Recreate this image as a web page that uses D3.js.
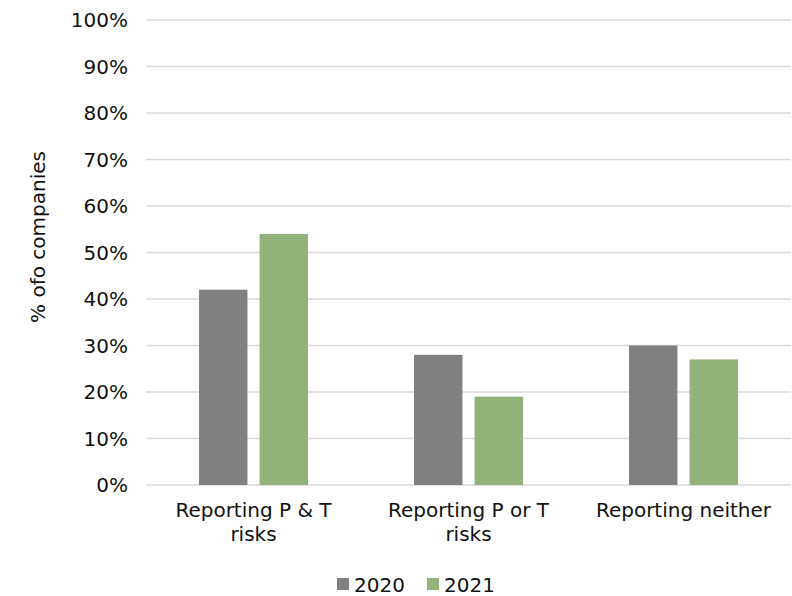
<!DOCTYPE html>
<html>
<head>
<meta charset="utf-8">
<script src="https://cdn.jsdelivr.net/npm/d3@7"></script>
<style>
  body { margin: 0; background: #fff; }
  svg text { font-family: "DejaVu Sans", sans-serif; fill: #111; }
</style>
</head>
<body>
<svg id="chart" width="792" height="596"></svg>
<script>
// Share of companies reporting physical (P) and transition (T) risks
const categories = [["Reporting P & T", "risks"], ["Reporting P or T", "risks"], ["Reporting neither"]];
const seriesNames = ["2020", "2021"];
const values2020 = [42, 28, 30];
const values2021 = [54, 19, 27];
const yTicks = [0, 10, 20, 30, 40, 50, 60, 70, 80, 90, 100];
const colors = ["#808080", "#92b27a"];

const svg = d3.select("#chart");
const margin = { left: 146, right: 1, top: 20, bottom: 111 };
const width = 792 - margin.left - margin.right;
const height = 596 - margin.top - margin.bottom;
const g = svg.append("g").attr("transform", `translate(${margin.left},${margin.top})`);

const x0 = d3.scaleBand().domain(d3.range(categories.length)).range([0, width]);
const x1 = d3.scaleBand().domain(seriesNames).range([53, x0.bandwidth() - 53]).paddingInner(0.2);
const y = d3.scaleLinear().domain([0, 100]).range([height, 0]);

// gridlines
g.selectAll("line.grid").data(yTicks).join("line")
  .attr("x1", 0).attr("x2", width)
  .attr("y1", d => y(d)).attr("y2", d => y(d))
  .attr("stroke", "#d9d9d9").attr("stroke-width", 1.3);

// y tick labels
g.selectAll("text.ytick").data(yTicks).join("text")
  .attr("x", -18).attr("y", d => y(d)).attr("dy", "0.36em")
  .attr("text-anchor", "end").attr("font-size", 20)
  .text(d => d + "%");

// bars
const series = [values2020, values2021];
const groups = g.selectAll("g.cat").data(categories).join("g")
  .attr("transform", (d, i) => `translate(${x0(i)},0)`);
groups.each(function (d, i) {
  d3.select(this).selectAll("rect").data(seriesNames).join("rect")
    .attr("x", s => x1(s))
    .attr("width", x1.bandwidth())
    .attr("y", (s, k) => y(series[k][i]))
    .attr("height", (s, k) => height - y(series[k][i]))
    .attr("fill", (s, k) => colors[k]);
});

// category labels
groups.append("text")
  .attr("x", x0.bandwidth() / 2).attr("y", height + 32)
  .attr("text-anchor", "middle").attr("font-size", 20)
  .selectAll("tspan").data(d => d).join("tspan")
  .attr("x", x0.bandwidth() / 2)
  .attr("dy", (d, i) => i === 0 ? 0 : 24)
  .text(d => d);

// y axis title
svg.append("text")
  .attr("transform", "translate(45,237) rotate(-90)")
  .attr("text-anchor", "middle").attr("font-size", 20)
  .text("% ofo companies");

// legend
const legend = svg.append("g").attr("transform", "translate(337,578)");
const items = legend.selectAll("g").data(seriesNames).join("g")
  .attr("transform", (d, i) => `translate(${i * 90},0)`);
items.append("rect").attr("width", 12).attr("height", 12).attr("fill", (d, i) => colors[i]);
items.append("text").attr("x", 17).attr("y", 14).attr("font-size", 20).text(d => d);
</script>
</body>
</html>
